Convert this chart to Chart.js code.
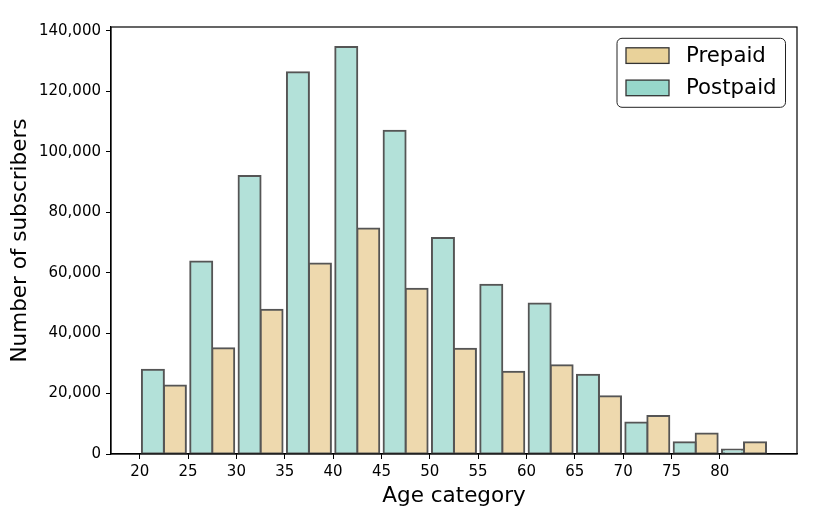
<!DOCTYPE html>
<html>
<head>
<meta charset="utf-8">
<script src="https://cdn.jsdelivr.net/npm/chart.js@4.4.1/dist/chart.umd.min.js"></script>
<style>
  html, body { margin: 0; padding: 0; background: #ffffff; }
  #wrap { width: 830px; height: 515px; }
</style>
</head>
<body>
<div id="wrap"><canvas id="c" width="830" height="515"></canvas></div>
<script>
// ---- data ----
const ageBins = [20, 25, 30, 35, 40, 45, 50, 55, 60, 65, 70, 75, 80];
const binWidth = 5;
const postpaid = [27900, 63700, 92000, 126300, 134700, 107000, 71500, 56000, 49800, 26200, 10400, 3900, 1500];
const prepaid  = [22700, 35000, 47700, 63000, 74600, 54700, 34800, 27200, 29400, 19100, 12600, 6800, 3900];
const xTicks = [20, 25, 30, 35, 40, 45, 50, 55, 60, 65, 70, 75, 80];
const yTicks = [0, 20000, 40000, 60000, 80000, 100000, 120000, 140000];
const seriesNames = ['Postpaid', 'Prepaid'];

const FONT = "'DejaVu Sans', 'Liberation Sans', sans-serif";
const postFill = '#b3e1d9';
const preFill = '#eed9ae';
const postLegend = '#97d7cb';
const preLegend = '#e9d29a';
const edge = '#555555';

const toPoints = (vals) => vals.map((v, i) => ({ x: ageBins[i] + binWidth / 2, y: v }));

const framePlugin = {
  id: 'frame',
  afterDraw(chart) {
    const { ctx, chartArea: a } = chart;
    ctx.save();
    ctx.strokeStyle = '#000';
    ctx.lineWidth = 1.2;
    ctx.strokeRect(a.left, a.top, a.right - a.left, a.bottom - a.top);
    ctx.restore();
  }
};

const legendPlugin = {
  id: 'mplLegend',
  afterDraw(chart) {
    const { ctx, chartArea: a } = chart;
    const w = 168.5, h = 69;
    const x = a.right - 11.5 - w, y = a.top + 11.3;
    ctx.save();
    ctx.beginPath();
    ctx.roundRect(x, y, w, h, 5);
    ctx.fillStyle = 'rgba(255,255,255,0.85)';
    ctx.fill();
    ctx.strokeStyle = '#222';
    ctx.lineWidth = 1;
    ctx.stroke();
    const items = [
      { label: seriesNames[1], color: preLegend },
      { label: seriesNames[0], color: postLegend }
    ];
    ctx.font = '21.3px ' + FONT;
    ctx.textBaseline = 'middle';
    items.forEach((it, i) => {
      const cy = y + 17.3 + i * 32.3;
      ctx.fillStyle = it.color;
      ctx.fillRect(x + 9, cy - 7.8, 43, 15.6);
      ctx.strokeStyle = '#333';
      ctx.lineWidth = 1.3;
      ctx.strokeRect(x + 9, cy - 7.8, 43, 15.6);
      ctx.fillStyle = '#000';
      ctx.fillText(it.label, x + 69, cy + 0.5);
    });
    ctx.restore();
  }
};

new Chart(document.getElementById('c'), {
  type: 'bar',
  data: {
    datasets: [
      {
        label: seriesNames[0],
        data: toPoints(postpaid),
        backgroundColor: postFill,
        borderColor: edge,
        borderWidth: 2,
        inflateAmount: 1,
        borderSkipped: false
      },
      {
        label: seriesNames[1],
        data: toPoints(prepaid),
        backgroundColor: preFill,
        borderColor: edge,
        borderWidth: 2,
        inflateAmount: 1,
        borderSkipped: false
      }
    ]
  },
  options: {
    responsive: false,
    animation: false,
    devicePixelRatio: 1,
    categoryPercentage: 0.91,
    barPercentage: 1.0,
    layout: { padding: { left: 0, right: 33, top: 27, bottom: 0 } },
    plugins: {
      legend: { display: false },
      tooltip: { enabled: false }
    },
    scales: {
      x: {
        type: 'linear',
        min: 17.03,
        max: 87.98,
        offset: false,
        grid: { display: true, drawOnChartArea: false, drawTicks: true, tickLength: 5, color: '#000', offset: false },
        border: { display: true, color: '#000', width: 1.2 },
        ticks: {
          font: { family: FONT, size: 15 },
          color: '#000',
          padding: 4,
          maxRotation: 0,
          autoSkip: false,
          includeBounds: false
        },
        afterBuildTicks(scale) { scale.ticks = xTicks.map(v => ({ value: v })); },
        afterFit(scale) { scale.height = 61; },
        title: {
          display: true,
          text: 'Age category',
          font: { family: FONT, size: 21.5 },
          color: '#000',
          padding: { top: 6, bottom: 6 }
        }
      },
      y: {
        type: 'linear',
        min: 0,
        max: 141300,
        grid: { display: true, drawOnChartArea: false, drawTicks: true, tickLength: 5, color: '#000' },
        border: { display: true, color: '#000', width: 1.2 },
        ticks: {
          font: { family: FONT, size: 15 },
          color: '#000',
          padding: 5,
          autoSkip: false,
          includeBounds: false,
          callback: (v) => Number(v).toLocaleString('en-US')
        },
        afterBuildTicks(scale) { scale.ticks = yTicks.map(v => ({ value: v })); },
        afterFit(scale) { scale.width = 111; },
        title: {
          display: true,
          text: 'Number of subscribers',
          font: { family: FONT, size: 21.5 },
          color: '#000',
          padding: { top: 8, bottom: 6 }
        }
      }
    }
  },
  plugins: [framePlugin, legendPlugin]
});
</script>
</body>
</html>
